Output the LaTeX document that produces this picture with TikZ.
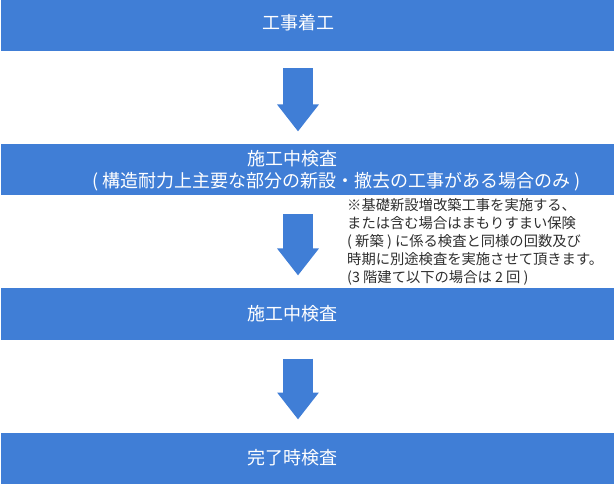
\documentclass[tikz,border=0pt]{standalone}
\usepackage{fontspec}
\newfontfamily\jpfont{Noto Sans CJK JP}
\usetikzlibrary{arrows.meta,positioning}
\definecolor{flowblue}{HTML}{407ED6}
\definecolor{notegray}{HTML}{2E2E2E}

\begin{document}
\begin{tikzpicture}[
  x=1pt, y=-1pt,
  node distance=93pt,
  bar/.style={fill=flowblue, minimum width=613pt, minimum height=51pt, inner sep=0pt, outer sep=0pt},
  bartext/.style={text=white, font=\jpfont\fontsize{18}{22}\selectfont, inner sep=0pt, align=left},
  note/.style={text=notegray, font=\jpfont\fontsize{14.3}{18}\selectfont, inner sep=0pt, align=left},
  downarrow/.style={draw=flowblue, line width=30pt, -{Triangle[length=27pt,width=40pt]}}
]
\useasboundingbox (0,0) rectangle (615,502);
\node[bar] (start) at (307.5,26) {};
\node[bar, below=of start] (mid1) {};
\node[bar, below=of mid1] (mid2) {};
\node[bar, below=of mid2] (done) {};
\node[bartext] (starttxt) at ([xshift=-9.5pt,yshift=3pt]start.center) {工事着工};
\node[bartext, anchor=west] (mid1txt) at ([xshift=91pt,yshift=-1pt]mid1.west)
  {\hspace*{155pt}施工中検査\\( 構造耐力上主要な部分の新設・撤去の工事がある場合のみ )};
\node[bartext] (mid2txt) at ([xshift=-15.5pt]mid2.center) {施工中検査};
\node[bartext] (donetxt) at ([xshift=-15.5pt]done.center) {完了時検査};
\node[note, anchor=north west] (remark) at (347,198)
  {※基礎新設増改築工事を実施する、\\または含む場合はまもりすまい保険\\( 新築 ) に係る検査と同様の回数及び\\時期に別途検査を実施させて頂きます。\\(3 階建て以下の場合は 2 回 )};
\draw[downarrow] ([xshift=-9.5pt,yshift=-17pt]start.south) -- ([xshift=-9.5pt,yshift=13pt]mid1.north);
\draw[downarrow] ([xshift=-9.5pt,yshift=-19pt]mid1.south) -- ([xshift=-9.5pt,yshift=13pt]mid2.north);
\draw[downarrow] ([xshift=-9.5pt,yshift=-19pt]mid2.south) -- ([xshift=-9.5pt,yshift=13pt]done.north);
\end{tikzpicture}
\end{document}
